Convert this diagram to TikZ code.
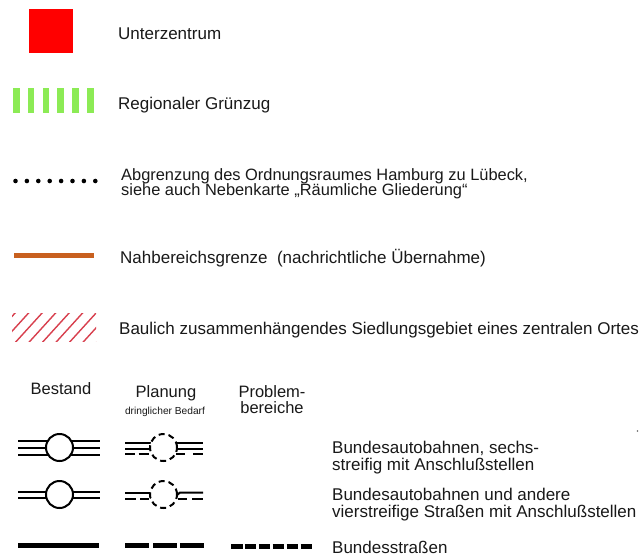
\documentclass[tikz,border=0pt]{standalone}
\usepackage{fontspec}
\setmainfont{Liberation Sans}
\begin{document}
\begin{tikzpicture}[x=1pt,y=-1pt,
  lbl/.style={anchor=base west, inner sep=0pt, text=black!90, font=\fontsize{17}{18}\selectfont},
  hdr/.style={anchor=base, inner sep=0pt, text=black!90, font=\fontsize{16.5}{18}\selectfont},
  smallhdr/.style={anchor=base, inner sep=0pt, text=black!90, font=\fontsize{10.2}{11}\selectfont},
  road/.style={line width=2pt, black},
  xing/.style={circle, draw, fill=white, line width=2pt, minimum size=27pt, inner sep=0pt},
  xingplan/.style={xing, dash pattern=on 6pt off 4pt},
  thick road/.style={line width=5pt, black}]
\definecolor{uzred}{HTML}{FF0000}
\definecolor{gzgreen}{HTML}{8CEB55}
\definecolor{nborange}{HTML}{C8601F}
\definecolor{hatchred}{HTML}{D8404E}
\useasboundingbox (0,0) rectangle (643,558);
\fill[white] (0,0) rectangle (643,558);

% Unterzentrum
\node[fill=uzred, minimum size=44pt, inner sep=0pt] (uz) at (51,30.5) {};
\node[lbl] (tuz) at (118,39) {Unterzentrum};

% Regionaler Gruenzug
\foreach \i in {0,...,5}{
  \fill[gzgreen] ({13+\i*14.8},88) rectangle ({19.5+\i*14.8},113);
}
\node[lbl] (tgz) at (118,109) {Regionaler Grünzug};

% Abgrenzung
\foreach \i in {0,...,7}{
  \fill[black] ({15.5+\i*11.4},181) circle (2.3);
}
\node[lbl, font=\fontsize{16.4}{18}\selectfont, text depth=1pt] (tab1) at (121,180) {Abgrenzung des Ordnungsraumes Hamburg zu Lübeck,};
\node[lbl, font=\fontsize{16.4}{18}\selectfont, text height=11pt] (tab2) at (121,195) {siehe auch Nebenkarte „Räumliche Gliederung“};

% Nahbereichsgrenze
\draw[nborange, line width=5pt] (14,255.5) -- (94,255.5);
\node[lbl] (tnb) at (120,263) {Nahbereichsgrenze\ \ (nachrichtliche Übernahme)};

% Hatched
\begin{scope}
  \clip (12,313) rectangle (96,341);
  \foreach \i in {-2,...,7}{
    \draw[hatchred, line width=1.4pt] ({13+\i*13.5},345) -- ({13+\i*13.5+30},312);
  }
\end{scope}
\node[lbl] (tsg) at (119,334) {Baulich zusammenhängendes Siedlungsgebiet eines zentralen Ortes};

% Column headers
\node[hdr] (hb) at (61,394) {Bestand};
\node[hdr] (hp) at (166,397) {Planung};
\node[smallhdr] (hpd) at (165,414) {dringlicher Bedarf};
\node[hdr] (hpr1) at (272,397) {Problem-};
\node[hdr] (hpr2) at (272,413) {bereiche};

% Row 1: six-lane, Bestand
\draw[road] (18,441) -- (100,441);
\draw[road] (18,448) -- (100,448);
\draw[road] (18,455) -- (100,455);
\node[xing] (c1) at (59.5,447.5) {};

% Row 1: six-lane, Planung
\draw[road] (125,443) -- (152,443);
\draw[road] (125,448.5) -- (150,448.5);
\draw[road] (125,454) -- (135,454);
\draw[road] (138.5,454) -- (149,454);
\draw[road] (175,443) -- (203,443);
\draw[road] (177,448.5) -- (203,448.5);
\draw[road] (176,454) -- (185,454);
\draw[road] (193,454) -- (203,454);
\node[xingplan] (c2) at (163.5,447.5) {};

% Row 2: four-lane, Bestand
\draw[road] (18,491.5) -- (100,491.5);
\draw[road] (18,498) -- (100,498);
\node[xing] (c3) at (59.5,494.5) {};

% Row 2: four-lane, Planung
\draw[road] (125,492.5) -- (151,492.5) -- (151,498.5);
\draw[road] (125,499) -- (136,499);
\draw[road] (140,499) -- (149,499);
\draw[road] (176,496) -- (180,492.5) -- (203,492.5);
\draw[road] (178,499) -- (187,499);
\draw[road] (192,499) -- (203,499);
\node[xingplan] (c4) at (163.5,494.5) {};

% Row 3: Bundesstrassen
\draw[thick road, line width=5.5pt] (18,545.5) -- (99,545.5);
\foreach \a/\b in {125/149,153/177,180/204}{
  \draw[thick road] (\a,545) -- (\b,545);
}
\foreach \i in {0,...,5}{
  \draw[thick road] ({231+\i*13.9},546) -- ({242.5+\i*13.9},546);
}

% Right labels
\node[lbl] (tba1) at (332,453) {Bundesautobahnen, sechs-};
\node[lbl] (tba2) at (332,470) {streifig mit Anschlußstellen};
\node[lbl] (tbb1) at (332,500) {Bundesautobahnen und andere};
\node[lbl] (tbb2) at (332,517) {vierstreifige Straßen mit Anschlußstellen};
\node[lbl] (tbs) at (332,553) {Bundesstraßen};

% stray mark
\fill[black!60] (637.5,431) circle (0.9);
\end{tikzpicture}
\end{document}
